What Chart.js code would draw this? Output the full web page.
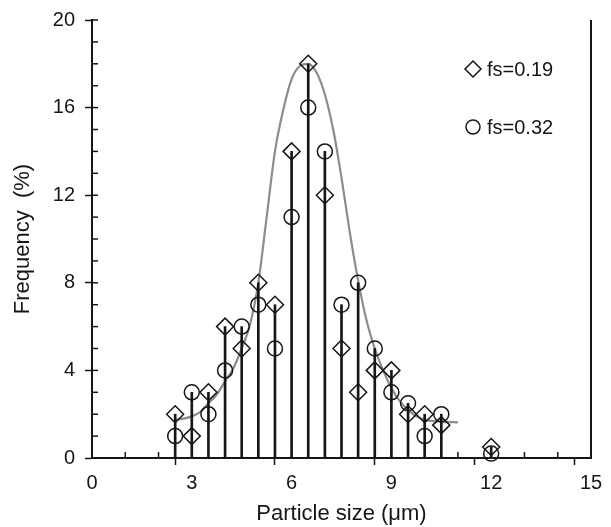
<!DOCTYPE html>
<html>
<head>
<meta charset="utf-8">
<script src="https://cdn.jsdelivr.net/npm/chart.js@4.4.0/dist/chart.umd.min.js"></script>
<style>
  html, body { margin: 0; padding: 0; background: #fff; }
  #wrap { width: 611px; height: 527px; }
</style>
</head>
<body>
<div id="wrap"><canvas id="myChart"></canvas></div>
<script>
// particle sizes (um) where the frequencies were measured
const sizes = [2.5, 3, 3.5, 4, 4.5, 5, 5.5, 6, 6.5, 7, 7.5, 8, 8.5, 9, 9.5, 10, 10.5, 12]
// frequency (%) for fs=0.19 (diamonds)
const fs019 = [2, 1, 3, 6, 5, 8, 7, 14, 18, 12, 5, 3, 4, 4, 2, 2, 1.5, 0.5]
// frequency (%) for fs=0.32 (circles)
const fs032 = [1, 3, 2, 4, 6, 7, 5, 11, 16, 14, 7, 8, 5, 3, 2.5, 1, 2, 0.2]
// grey fitted curve
const fitX = [2.5, 2.75, 3, 3.25, 3.5, 3.75, 4, 4.25, 4.5, 4.75, 5, 5.25, 5.5, 5.75, 6, 6.25, 6.5, 6.75, 7, 7.25, 7.5, 7.75, 8, 8.25, 8.5, 8.75, 9, 9.25, 9.5, 9.75, 10, 10.5, 11]
const fitY = [1.75, 1.8, 1.9, 2.1, 2.5, 2.9, 3.5, 4.1, 5.0, 6.1, 8.0, 11.0, 14.0, 15.9, 17.3, 17.9, 18.0, 17.6, 16.6, 15.0, 12.8, 10.3, 8.1, 6.3, 5.0, 4.0, 3.2, 2.6, 2.2, 1.9, 1.75, 1.65, 1.63]
const legendLabels = ['fs=0.19', 'fs=0.32']

const ink = '#161616'
const fontFamily = '"Liberation Sans", Arial, Helvetica, sans-serif'

const toPoints = (xs, ys) => xs.map((x, i) => ({ x: x, y: ys[i] }))

// stems run up to the higher of the two markers
const stems = sizes.map((x, i) => ({ x: x, y: Math.max(fs019[i], fs032[i]) }))

const drawDiamond = (ctx, x, y, r) => {
  ctx.beginPath()
  ctx.moveTo(x, y - r)
  ctx.lineTo(x + r, y)
  ctx.lineTo(x, y + r)
  ctx.lineTo(x - r, y)
  ctx.closePath()
  ctx.stroke()
}
const drawCircle = (ctx, x, y, r) => {
  ctx.beginPath()
  ctx.arc(x, y, r, 0, Math.PI * 2)
  ctx.stroke()
}

// minor ticks pointing inward, right frame line and the in-plot legend
const extras = {
  id: 'extras',
  afterDraw(chart) {
    const ctx = chart.ctx
    const xs = chart.scales.x
    const ys = chart.scales.y
    const left = xs.getPixelForValue(xs.min)
    const right = xs.getPixelForValue(xs.max)
    const top = ys.getPixelForValue(ys.max)
    const bottom = ys.getPixelForValue(ys.min)
    ctx.save()
    ctx.strokeStyle = ink
    ctx.lineWidth = 1.5
    for (let v = 1; v < 15; v++) {
      const px = xs.getPixelForValue(v)
      ctx.beginPath()
      ctx.moveTo(px, bottom)
      ctx.lineTo(px, bottom - 6)
      ctx.stroke()
    }
    for (let v = 1; v <= 20; v++) {
      const py = ys.getPixelForValue(v)
      ctx.beginPath()
      ctx.moveTo(left, py)
      ctx.lineTo(left + 6, py)
      ctx.stroke()
    }
    ctx.lineWidth = 2
    ctx.beginPath()
    ctx.moveTo(right, top)
    ctx.lineTo(right, bottom + 1)
    ctx.stroke()

    // legend
    const lx = right - 118
    const ly = [top + 49, top + 107]
    ctx.lineWidth = 1.5
    drawDiamond(ctx, lx, ly[0], 8)
    drawCircle(ctx, lx, ly[1], 7)
    ctx.fillStyle = ink
    ctx.font = '20px ' + fontFamily
    ctx.textBaseline = 'middle'
    ctx.textAlign = 'left'
    ctx.fillText(legendLabels[0], lx + 14, ly[0] + 1)
    ctx.fillText(legendLabels[1], lx + 14, ly[1] + 1)
    ctx.restore()
  }
}

const data = {
  datasets: [
    {
      type: 'scatter',
      label: legendLabels[0],
      data: toPoints(sizes, fs019),
      pointStyle: 'rectRot',
      pointRadius: 8.5,
      pointBorderWidth: 1.5,
      borderColor: ink,
      backgroundColor: 'rgba(0,0,0,0)',
      clip: false,
      order: 1
    },
    {
      type: 'scatter',
      label: legendLabels[1],
      data: toPoints(sizes, fs032),
      pointStyle: 'circle',
      pointRadius: 7.5,
      pointBorderWidth: 1.5,
      borderColor: ink,
      backgroundColor: 'rgba(0,0,0,0)',
      clip: false,
      order: 1
    },
    {
      type: 'bar',
      label: 'stems',
      data: stems,
      barThickness: 2,
      backgroundColor: ink,
      clip: false,
      order: 2
    },
    {
      type: 'line',
      label: 'fit',
      data: toPoints(fitX, fitY),
      borderColor: '#8c8c8c',
      borderWidth: 2.2,
      pointRadius: 0,
      cubicInterpolationMode: 'monotone',
      fill: false,
      clip: false,
      order: 3
    }
  ]
}

const config = {
  type: 'scatter',
  data: data,
  options: {
    responsive: true,
    maintainAspectRatio: false,
    animation: false,
    events: [],
    layout: { padding: { top: 20, right: 20, left: 0, bottom: 0 } },
    plugins: {
      legend: { display: false },
      tooltip: { enabled: false }
    },
    scales: {
      x: {
        type: 'linear',
        min: 0,
        max: 15,
        offset: false,
        afterFit: (scale) => {
          scale.height = 69
          scale.paddingLeft = 0
          scale.paddingRight = 0
        },
        border: { display: true, color: ink, width: 2 },
        grid: {
          drawOnChartArea: false,
          tickLength: 7,
          tickWidth: 1.5,
          tickColor: (c) => (c.tick && c.tick.value % 3 === 0 ? ink : 'rgba(0,0,0,0)')
        },
        ticks: {
          stepSize: 1,
          autoSkip: false,
          maxRotation: 0,
          padding: 6,
          color: ink,
          font: { size: 20, family: fontFamily },
          callback: (v) => (v % 3 === 0 ? v : '')
        },
        title: {
          display: true,
          text: 'Particle size (μm)',
          color: ink,
          font: { size: 22, family: fontFamily },
          padding: { top: 0, bottom: 0 }
        }
      },
      y: {
        type: 'linear',
        min: 0,
        max: 20,
        afterFit: (scale) => {
          scale.width = 92
          scale.paddingTop = 0
          scale.paddingBottom = 0
        },
        border: { display: true, color: ink, width: 2 },
        grid: {
          drawOnChartArea: false,
          tickLength: 7,
          tickWidth: 1.5,
          tickColor: (c) => (c.tick && c.tick.value % 4 === 0 ? ink : 'rgba(0,0,0,0)')
        },
        ticks: {
          stepSize: 1,
          autoSkip: false,
          padding: 10,
          color: ink,
          font: { size: 20, family: fontFamily },
          callback: (v) => (v % 4 === 0 ? v : '')
        },
        title: {
          display: true,
          text: 'Frequency  (%)',
          color: ink,
          font: { size: 22, family: fontFamily },
          padding: { top: 10, bottom: 0 }
        }
      }
    }
  },
  plugins: [extras]
}

new Chart(document.getElementById('myChart'), config)
</script>
</body>
</html>
